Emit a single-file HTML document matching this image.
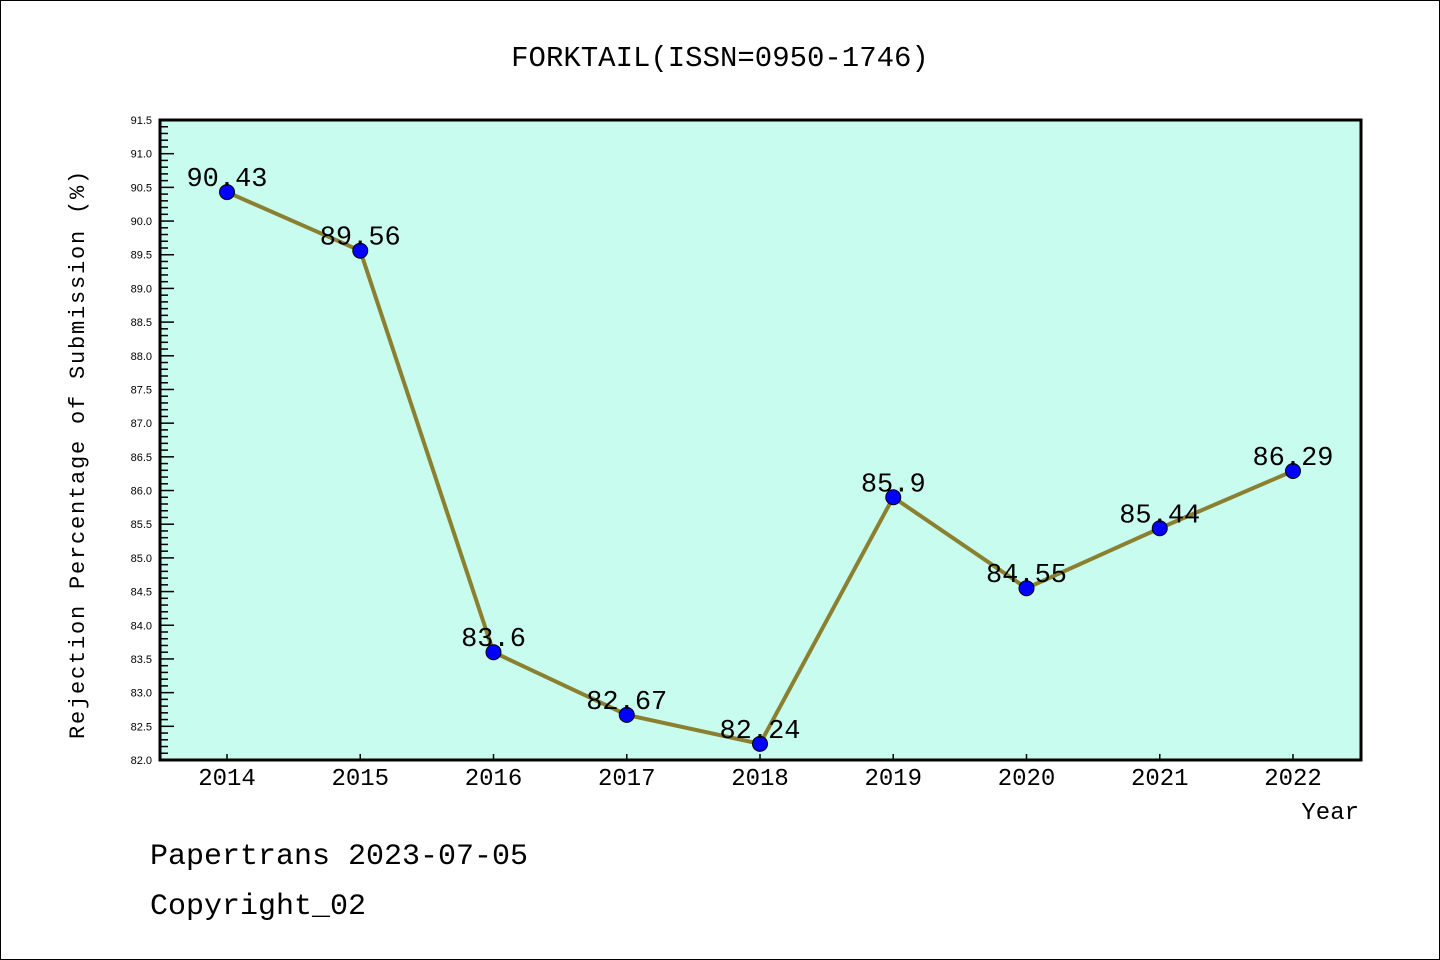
<!DOCTYPE html>
<html><head><meta charset="utf-8"><style>
body{margin:0;background:#fff}
svg{display:block;font-family:"Liberation Mono","Noto Sans CJK SC",monospace}
</style></head><body>
<svg width="1440" height="960">
<rect x="0.5" y="0.5" width="1439" height="959" fill="#fff" stroke="#000"/>
<text x="720" y="66" font-size="29" text-anchor="middle">FORKTAIL(ISSN=0950-1746)</text>
<rect x="160" y="120" width="1201" height="640" fill="#c8fcef"/>
<g id="axes"></g>
<g id="marks"></g>
<rect x="160" y="120" width="1201" height="640" fill="none" stroke="#000" stroke-width="3"/>
<text x="84" y="454" font-size="22" text-anchor="middle" letter-spacing="1.8" transform="rotate(-90 84 454)">Rejection Percentage of Submission (%)</text>
<text x="1359" y="819" font-size="24" text-anchor="end">Year</text>
<text x="150" y="864" font-size="30">Papertrans 2023-07-05</text>
<text x="150" y="914" font-size="30">Copyright_02</text>
</svg>
<script>
const years=["2014","2015","2016","2017","2018","2019","2020","2021","2022"];
const values=[90.43,89.56,83.6,82.67,82.24,85.9,84.55,85.44,86.29];
const labels=["90.43","89.56","83.6","82.67","82.24","85.9","84.55","85.44","86.29"];
const yMin=82.0,yMax=91.5;
const NS="http://www.w3.org/2000/svg";
const X=i=>227+i*(1293-227)/(years.length-1);
const Y=v=>760-(v-yMin)*640/(yMax-yMin);
function mk(t,a,p){const e=document.createElementNS(NS,t);for(const k in a)e.setAttribute(k,a[k]);p.appendChild(e);return e;}
const ax=document.getElementById('axes'),mg=document.getElementById('marks');
for(let k=0;k<=95;k++){
 const v=yMin+k*0.1,y=Y(v),maj=k%5===0;
 const t=mk('line',{x1:160,x2:160+(maj?14:8),y1:y,y2:y,stroke:'#000','stroke-width':1.5},ax);
 
 
 if(maj){const tx=mk('text',{x:152,y:y+4,'font-size':11,'text-anchor':'end','font-family':'Liberation Sans, sans-serif'},ax);tx.textContent=v.toFixed(1);
 
 }
}
years.forEach((yr,i)=>{
 const t=mk('line',{x1:X(i),x2:X(i),y1:760,y2:754,stroke:'#000','stroke-width':1.5},ax);
 
 
 const tx=mk('text',{x:X(i),y:785,'font-size':24,'text-anchor':'middle'},ax);tx.textContent=yr;
 
 
});
const pl=mk('polyline',{points:values.map((v,i)=>X(i)+','+Y(v)).join(' '),fill:'none',stroke:'#8b8030','stroke-width':4},mg);


values.forEach((v,i)=>{
 const c=mk('circle',{cx:X(i),cy:Y(v),r:7.5,fill:'#0000ff',stroke:'#000','stroke-width':1},mg);
 
 
 const tx=mk('text',{x:X(i),y:Y(v)-6,'font-size':27,'text-anchor':'middle'},mg);tx.textContent=labels[i];
 
 
});
</script>
</body></html>
